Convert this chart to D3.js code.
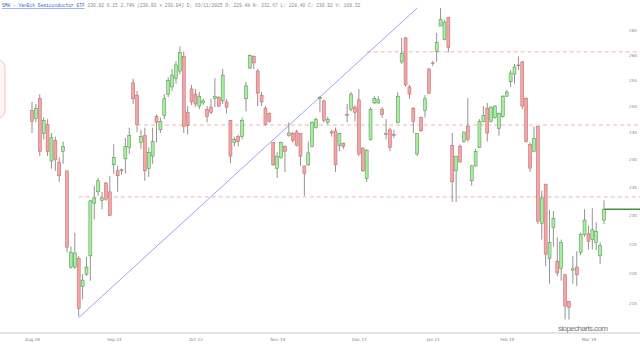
<!DOCTYPE html>
<html lang="en">
<head>
    <meta charset="UTF-8">
    <title>SMH daily candles</title>
    <script src="https://d3js.org/d3.v7.min.js"></script>
    <style>
        body { margin: 0; background: #fff; }
        .title { font-family: "Liberation Mono", "DejaVu Sans Mono", monospace; font-size: 4.6px; fill: #8a8a8a; }
        .title .sym { fill: #3a5fcf; text-decoration: underline; }
        .axis text { font-family: "DejaVu Sans", sans-serif; font-size: 4.2px; fill: #7a8499; }
        .axis path, .axis line { display: none; }
        .wick { stroke: #777; stroke-width: 0.8; }
        .level { stroke: #f0a0a0; stroke-width: 0.8; stroke-dasharray: 4,3; fill: none; }
        .watermark { font-family: "Liberation Sans", Arial, sans-serif; font-size: 8px; fill: #777; }
    </style>
</head>
<body>
<svg id="chart" width="640" height="344"></svg>
<script>
    // OHLC values (daily candles, oldest first)
    const opens = [249.2,247.6,251.5,244.8,246.5,239.7,243.5,239.5,241.5,237.9,
        221.0,221.0,222.5,217.7,219.8,222.9,232.1,234.1,232.6,235.7,
        234.1,239.0,237.9,238.1,240.1,242.2,254.5,252.1,243.1,244.4,
        238.3,240.6,248.0,245.5,248.2,252.3,253.7,255.3,256.8,259.7,
        248.8,253.3,252.3,250.0,
        250.6,249.4,249.8,251.5,251.7,251.0,250.8,247.3,243.1,244.2,244.2,251.4,257.4,259.7,256.8,252.1,249.6,248.6,
        243.1,238.3,240.3,242.4,244.4,244.8,245.1,244.8,238.8,239.0,
        242.4,245.9,251.4,251.0,246.9,245.1,245.3,242.6,243.0,248.4,
        249.4,249.8,251.2,242.1,236.5,243.7,250.6,250.6,249.4,244.8,
        245.5,244.6,
        246.9,258.6,263.4,253.7,249.6,241.0,247.8,249.2,257.2,258.4,260.7,265.8,263.1,267.5,
        242.6,237.9,242.4,243.3,246.1,236.1,238.8,242.2,247.1,249.6,
        247.1,247.8,245.7,248.0,251.9,254.7,256.2,258.0,258.6,251.5,
        242.8,241.5,246.1,228.5,235.5,222.5,227.8,222.0,220.8,219.7,
        215.3,220.5,221.0,223.5,226.6,226.7,225.7,225.2,222.9,229.1];

    const highs = [250.8,250.4,252.3,247.8,247.5,244.9,244.2,240.4,243.3,237.9,
        224.5,226.9,222.9,219.8,222.7,232.6,235.2,236.6,234.1,235.9,
        237.0,242.8,238.8,238.3,244.0,245.9,255.3,252.9,245.5,245.9,
        242.2,245.9,248.4,247.8,252.3,255.6,257.2,258.8,261.7,260.7,
        250.0,254.1,253.3,252.7,
        251.4,250.0,251.4,255.4,251.9,257.2,251.4,247.3,244.2,244.6,247.8,254.7,260.1,259.9,257.2,252.7,250.0,248.8,
        243.1,241.3,243.3,242.6,246.9,245.1,245.5,244.9,238.8,243.3,
        247.1,247.8,251.9,251.2,248.0,245.5,245.9,244.9,243.1,250.4,
        252.7,250.2,253.3,242.2,241.9,249.8,251.9,251.9,249.8,247.5,
        245.9,245.5,
        252.7,263.4,263.6,254.1,249.8,244.9,248.0,252.1,257.4,258.8,264.4,269.5,267.1,267.7,
        244.9,240.6,242.8,245.1,251.5,239.0,241.9,247.5,250.0,250.6,
        250.0,250.2,248.8,252.1,253.1,257.0,258.2,259.7,258.8,251.7,
        243.1,246.1,246.1,234.3,235.5,230.9,230.7,226.1,225.7,219.8,
        215.3,222.9,223.7,226.9,231.0,228.1,231.2,228.7,225.2,232.6];

    const lows = [244.9,246.9,240.6,243.7,240.6,238.3,237.9,235.9,239.2,223.5,
        220.7,220.7,212.8,215.6,219.5,218.7,229.2,233.4,231.0,232.5,
        229.8,237.4,234.1,237.2,237.4,241.0,250.4,245.1,241.9,236.1,
        236.8,239.2,243.1,244.9,247.5,251.7,252.9,254.3,256.2,244.9,
        244.6,250.2,249.8,249.4,
        250.2,246.9,248.4,249.8,249.8,250.4,248.6,239.3,242.4,242.4,243.7,249.0,257.2,257.2,250.0,250.0,246.3,246.9,
        238.8,236.6,240.1,237.7,244.2,243.1,242.4,238.8,233.4,238.8,
        242.2,245.7,248.8,246.9,246.5,244.2,237.7,241.5,241.9,246.9,
        249.0,247.1,240.6,237.7,235.9,243.5,250.4,250.4,247.8,243.7,
        241.5,244.0,
        246.7,258.2,253.7,251.4,244.9,240.6,245.1,247.8,252.3,257.8,258.6,265.8,262.9,260.5,
        232.3,232.3,239.5,243.1,243.3,235.2,238.7,242.1,246.9,243.3,
        246.9,247.6,244.4,247.8,251.8,253.7,254.3,257.0,249.4,243.1,
        237.7,241.3,228.4,225.7,221.2,218.2,224.5,219.5,218.7,212.3,
        212.3,218.2,217.8,223.0,226.2,224.0,224.0,223.9,221.5,228.4];

    const closes = [247.1,249.6,241.5,247.3,241.5,244.0,239.9,237.0,242.4,224.4,
        223.5,223.4,214.1,218.8,221.0,232.5,233.0,236.1,233.0,232.8,
        229.9,240.3,237.0,237.9,242.4,244.4,251.4,246.5,244.2,237.9,
        241.3,243.3,246.9,247.1,251.4,254.9,256.0,258.0,260.5,246.1,
        246.3,250.8,250.4,251.9,
        251.0,248.0,248.8,251.9,250.0,256.0,249.8,240.6,243.7,243.3,247.3,253.9,259.9,258.4,252.5,250.8,246.5,247.1,
        239.0,240.6,243.1,241.5,244.9,243.5,242.6,240.6,237.4,241.2,
        246.9,247.5,251.7,247.3,247.5,244.9,239.0,244.8,242.4,248.3,
        252.3,248.8,241.0,237.9,241.7,249.4,251.5,251.2,248.4,244.7,
        242.2,244.5,
        251.9,260.3,254.1,252.3,247.1,244.8,245.3,251.4,252.5,258.3,262.5,267.1,266.6,261.5,
        235.9,240.6,239.5,245.1,243.7,238.8,241.5,247.1,248.2,244.9,
        249.8,250.0,248.6,251.9,252.7,256.4,257.6,257.9,250.0,243.3,
        238.4,243.9,228.9,233.0,223.2,225.2,229.4,220.0,225.2,214.5,
        214.3,220.7,219.7,226.6,229.1,225.4,227.4,227.1,224.7,231.0];

    // axis labels
    const priceTicks = [265, 260, 255, 250, 245, 240, 235, 230, 225, 220, 215];
    const dateTickIdx = [0, 21, 42, 63, 84, 103, 122, 143];
    const dateTickLabels = ["Aug 26", "Sep 24", "Oct 22", "Nov 19", "Dec 17", "Jan 21", "Feb 19", "Mar 19"];

    // drawn objects: horizontal levels (price, first candle), trend line ends
    const levelPrices = [260.6, 246.4, 233.2];
    const levelStart = [86, 27, 12];
    const trendIdx = [12, 99];
    const trendPrice = [212.6, 269.5];

    const titleSym = "SMH - VanEck Semiconductor ETF";
    const titleRest = " 230.92 6.15 2.74% (230.93 x 230.94) D, 03/11/2025 O: 229.48 H: 232.67 L: 228.40 C: 230.92 V: 169.32";

    const W = 640, H = 344;
    const svg = d3.select("#chart");

    const x = d3.scaleLinear().domain([0, closes.length - 1]).range([32, 604]);
    const y = d3.scaleLog().domain([215, 265]).range([303, 30]);

    // partially hidden pink box at the left edge
    svg.append("rect")
        .attr("x", -20).attr("y", 60).attr("width", 25).attr("height", 58).attr("rx", 7)
        .attr("fill", "#fff6f6").attr("stroke", "#f0b4b4").attr("stroke-width", 0.8);

    // dashed horizontal levels
    levelPrices.forEach((p, i) => {
        svg.append("line").attr("class", "level")
            .attr("x1", x(levelStart[i])).attr("x2", W)
            .attr("y1", y(p)).attr("y2", y(p));
    });

    // trend line
    svg.append("line")
        .attr("x1", x(trendIdx[0])).attr("y1", y(trendPrice[0]))
        .attr("x2", x(trendIdx[1])).attr("y2", y(trendPrice[1]))
        .attr("stroke", "#8a8ae6").attr("stroke-width", 0.8);

    // candles
    const idx = d3.range(closes.length);
    const g = svg.append("g");
    g.selectAll(".wick").data(idx).enter().append("line")
        .attr("class", "wick")
        .attr("x1", i => x(i)).attr("x2", i => x(i))
        .attr("y1", i => y(highs[i])).attr("y2", i => y(lows[i]));

    g.selectAll(".body").data(idx).enter().append("rect")
        .attr("class", "body")
        .attr("x", i => x(i) - 1.5)
        .attr("width", 3)
        .attr("y", i => y(Math.max(opens[i], closes[i])))
        .attr("height", i => Math.max(0.8, Math.abs(y(opens[i]) - y(closes[i]))))
        .attr("fill", i => closes[i] >= opens[i] ? "#a4ee9c" : "#f4a4a4")
        .attr("stroke", i => closes[i] >= opens[i] ? "#4f8a4f" : "#b86464")
        .attr("stroke-width", 0.5);

    // last price line
    const last = closes.length - 1;
    svg.append("line")
        .attr("x1", x(last)).attr("x2", W)
        .attr("y1", y(closes[last])).attr("y2", y(closes[last]))
        .attr("stroke", "#3c963c").attr("stroke-width", 1.4);

    // price axis on the right (labels centred near x=633)
    svg.append("g").attr("class", "axis")
        .attr("transform", "translate(633,0)")
        .call(d3.axisRight(y).tickValues(priceTicks).tickSize(0).tickPadding(0).tickFormat(d3.format("d")))
        .selectAll("text").attr("text-anchor", "middle");

    // bottom axis line and date labels
    svg.append("line")
        .attr("x1", 0).attr("x2", W).attr("y1", 333).attr("y2", 333)
        .attr("stroke", "#c8c8c8").attr("stroke-width", 1);

    svg.append("g").attr("class", "axis")
        .attr("transform", "translate(0,335)")
        .call(d3.axisBottom(x).tickValues(dateTickIdx).tickSize(0)
            .tickFormat((d, i) => dateTickLabels[i]));

    // watermark
    svg.append("text").attr("class", "watermark")
        .attr("x", 583).attr("y", 331).attr("text-anchor", "middle")
        .attr("textLength", 50)
        .text("slopecharts.com");

    // title line
    const title = svg.append("text").attr("class", "title").attr("x", 2).attr("y", 7);
    title.append("tspan").attr("class", "sym").text(titleSym);
    title.append("tspan").text(titleRest);
</script>
</body>
</html>
